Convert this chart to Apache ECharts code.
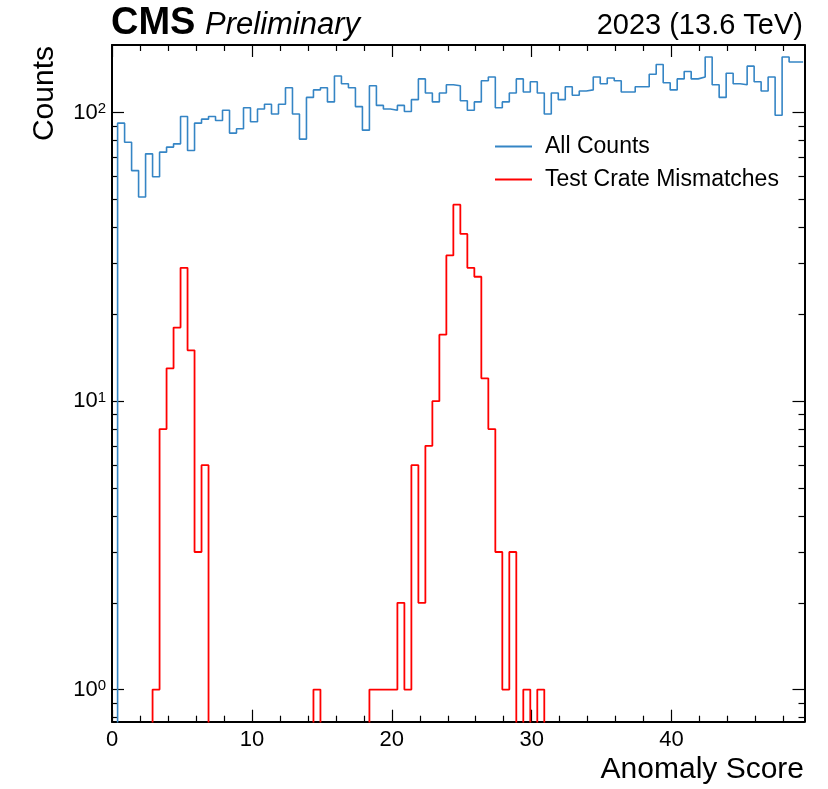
<!DOCTYPE html>
<html>
<head>
<meta charset="utf-8">
<title>Anomaly Score</title>
<script src="https://cdn.jsdelivr.net/npm/echarts@6/dist/echarts.min.js"></script>
<style>
  html, body { margin: 0; padding: 0; background: #fff; }
  #main { width: 828px; height: 789px; }
</style>
</head>
<body>
<div id="main"></div>
<script>
// histogram binning (0.5 wide bins, first edge at 0.4)
var binStart = 0.4;
var binWidth = 0.5;

// All Counts, one value per bin
var allCounts = [
  92, 79, 63, 51, 72, 60, 73, 76, 78, 97,
  74, 92, 95, 97, 94, 102, 85, 88, 104, 93,
  103, 107, 99, 107, 122, 99, 81, 113, 120, 122,
  109, 134, 126, 122, 105, 87, 124, 106, 103, 102,
  106, 101, 111, 131, 117, 109, 117, 125, 124, 110,
  102, 109, 129, 133, 104, 109, 117, 131, 118, 128,
  117, 99, 117, 111, 123, 115, 119, 120, 133, 126,
  132, 129, 118, 118, 123, 123, 136, 147, 127, 120,
  131, 139, 131, 133, 156, 125, 113, 137, 126, 125,
  145, 128, 119, 133, 98, 156, 150, 150
];

// Test Crate Mismatches, one value per bin
var mismatches = [
  0, 0, 0, 0, 0, 1, 8, 13, 18, 29,
  15, 3, 6, 0, 0, 0, 0, 0, 0, 0,
  0, 0, 0, 0, 0, 0, 0, 0, 1, 0,
  0, 0, 0, 0, 0, 0, 1, 1, 1, 1,
  2, 1, 6, 2, 7, 10, 17, 32, 48, 38,
  29, 27, 12, 8, 3, 1, 3, 0, 1, 0,
  1, 0, 0, 0, 0, 0, 0, 0, 0, 0,
  0, 0, 0, 0, 0, 0, 0, 0, 0, 0,
  0, 0, 0, 0, 0, 0, 0, 0, 0, 0,
  0, 0, 0, 0, 0, 0, 0, 0
];

var xRange = [0, 49.5];
var yRange = [0.774, 171.7];
var xMajorTicks = [0, 10, 20, 30, 40];
var xMinorTicks = [2, 4, 6, 8, 12, 14, 16, 18, 22, 24, 26, 28, 32, 34, 36, 38, 42, 44, 46, 48];
var yMajorTicks = [1, 10, 100];
var yMinorTicks = [0.8, 0.9, 2, 3, 4, 5, 6, 7, 8, 9, 20, 30, 40, 50, 60, 70, 80, 90];

var FONT = '"Liberation Sans", Arial, Helvetica, sans-serif';

// the y axis is drawn in log10 space
function lg(v) { return v > 0 ? Math.log10(v) : -3; }

// outline of a histogram (rises from the floor on the left, open on the right)
function stepPoints(counts) {
  var pts = [[binStart, -3]];
  for (var k = 0; k < counts.length; k++) {
    var lo = binStart + k * binWidth, hi = lo + binWidth;
    pts.push([lo, lg(counts[k])]);
    pts.push([hi, lg(counts[k])]);
  }
  return pts;
}

function xAxisDef(pos, ticks, len, major, labels) {
  return {
    type: 'value', position: pos, min: xRange[0], max: xRange[1],
    axisLine: { show: major, onZero: false, lineStyle: { color: '#000', width: 2 } },
    axisTick: { show: true, inside: true, length: len, customValues: ticks,
      lineStyle: { color: '#000', width: 1.2 } },
    axisLabel: labels ? { show: true, customValues: ticks, fontSize: 22, color: '#000',
      fontFamily: FONT, margin: 7 } : { show: false },
    splitLine: { show: false }
  };
}

function yAxisDef(pos, ticks, len, major, labels) {
  var logTicks = ticks.map(function (t) { return Math.log10(t); });
  return {
    type: 'value', position: pos, min: Math.log10(yRange[0]), max: Math.log10(yRange[1]),
    axisLine: { show: major, onZero: false, lineStyle: { color: '#000', width: 2 } },
    axisTick: { show: true, inside: true, length: len, customValues: logTicks,
      lineStyle: { color: '#000', width: 1.2 } },
    axisLabel: labels ? {
      show: true, customValues: logTicks, color: '#000', margin: 6,
      fontSize: 22, fontFamily: FONT,
      formatter: function (v) { return '10{sup|' + Math.round(v) + '}'; },
      rich: { sup: { fontSize: 15, fontFamily: FONT, color: '#000', verticalAlign: 'top' } }
    } : { show: false },
    splitLine: { show: false }
  };
}

var myChart = echarts.init(document.getElementById('main'), null, { renderer: 'canvas' });

var option = {
  animation: false,
  backgroundColor: '#fff',
  grid: { left: 112, right: 23.5, top: 45, bottom: 67.3, containLabel: false },
  xAxis: [
    xAxisDef('bottom', xMajorTicks, 12, true, true),
    xAxisDef('bottom', xMinorTicks, 6, false, false),
    xAxisDef('top', xMajorTicks, 12, true, false),
    xAxisDef('top', xMinorTicks, 6, false, false)
  ],
  yAxis: [
    yAxisDef('left', yMajorTicks, 12, true, true),
    yAxisDef('left', yMinorTicks, 6, false, false),
    yAxisDef('right', yMajorTicks, 12, true, false),
    yAxisDef('right', yMinorTicks, 6, false, false)
  ],
  legend: {
    orient: 'vertical', left: 490, top: 130,
    icon: 'rect', itemWidth: 37, itemHeight: 2, itemGap: 10,
    textStyle: { fontSize: 23, fontFamily: FONT, color: '#000', padding: [0, 0, 0, 8], lineHeight: 23 },
    data: ['All Counts', 'Test Crate Mismatches']
  },
  series: [
    {
      name: 'All Counts', type: 'line', xAxisIndex: 0, yAxisIndex: 0,
      symbol: 'none', clip: true,
      lineStyle: { color: '#3585c5', width: 1.6 }, itemStyle: { color: '#3585c5' },
      data: stepPoints(allCounts)
    },
    {
      name: 'Test Crate Mismatches', type: 'line', xAxisIndex: 0, yAxisIndex: 0,
      symbol: 'none', clip: true,
      lineStyle: { color: '#ff0000', width: 1.8 }, itemStyle: { color: '#ff0000' },
      data: stepPoints(mismatches)
    }
  ],
  graphic: [
    { type: 'text', x: 111, y: 24, style: { text: 'CMS', font: 'bold 38px ' + FONT,
      fill: '#000', textAlign: 'left', textVerticalAlign: 'middle' } },
    { type: 'text', x: 205, y: 25, style: { text: 'Preliminary', font: 'italic 31px ' + FONT,
      fill: '#000', textAlign: 'left', textVerticalAlign: 'middle' } },
    { type: 'text', x: 803, y: 26, style: { text: '2023 (13.6 TeV)', font: '29px ' + FONT,
      fill: '#000', textAlign: 'right', textVerticalAlign: 'middle' } },
    { type: 'text', x: 804, y: 770, style: { text: 'Anomaly Score', font: '30px ' + FONT,
      fill: '#000', textAlign: 'right', textVerticalAlign: 'middle' } },
    { type: 'text', x: 45, y: 46, rotation: Math.PI / 2, style: { text: 'Counts', font: '30px ' + FONT,
      fill: '#000', textAlign: 'right', textVerticalAlign: 'middle' } }
  ]
};

myChart.setOption(option);
</script>
</body>
</html>
